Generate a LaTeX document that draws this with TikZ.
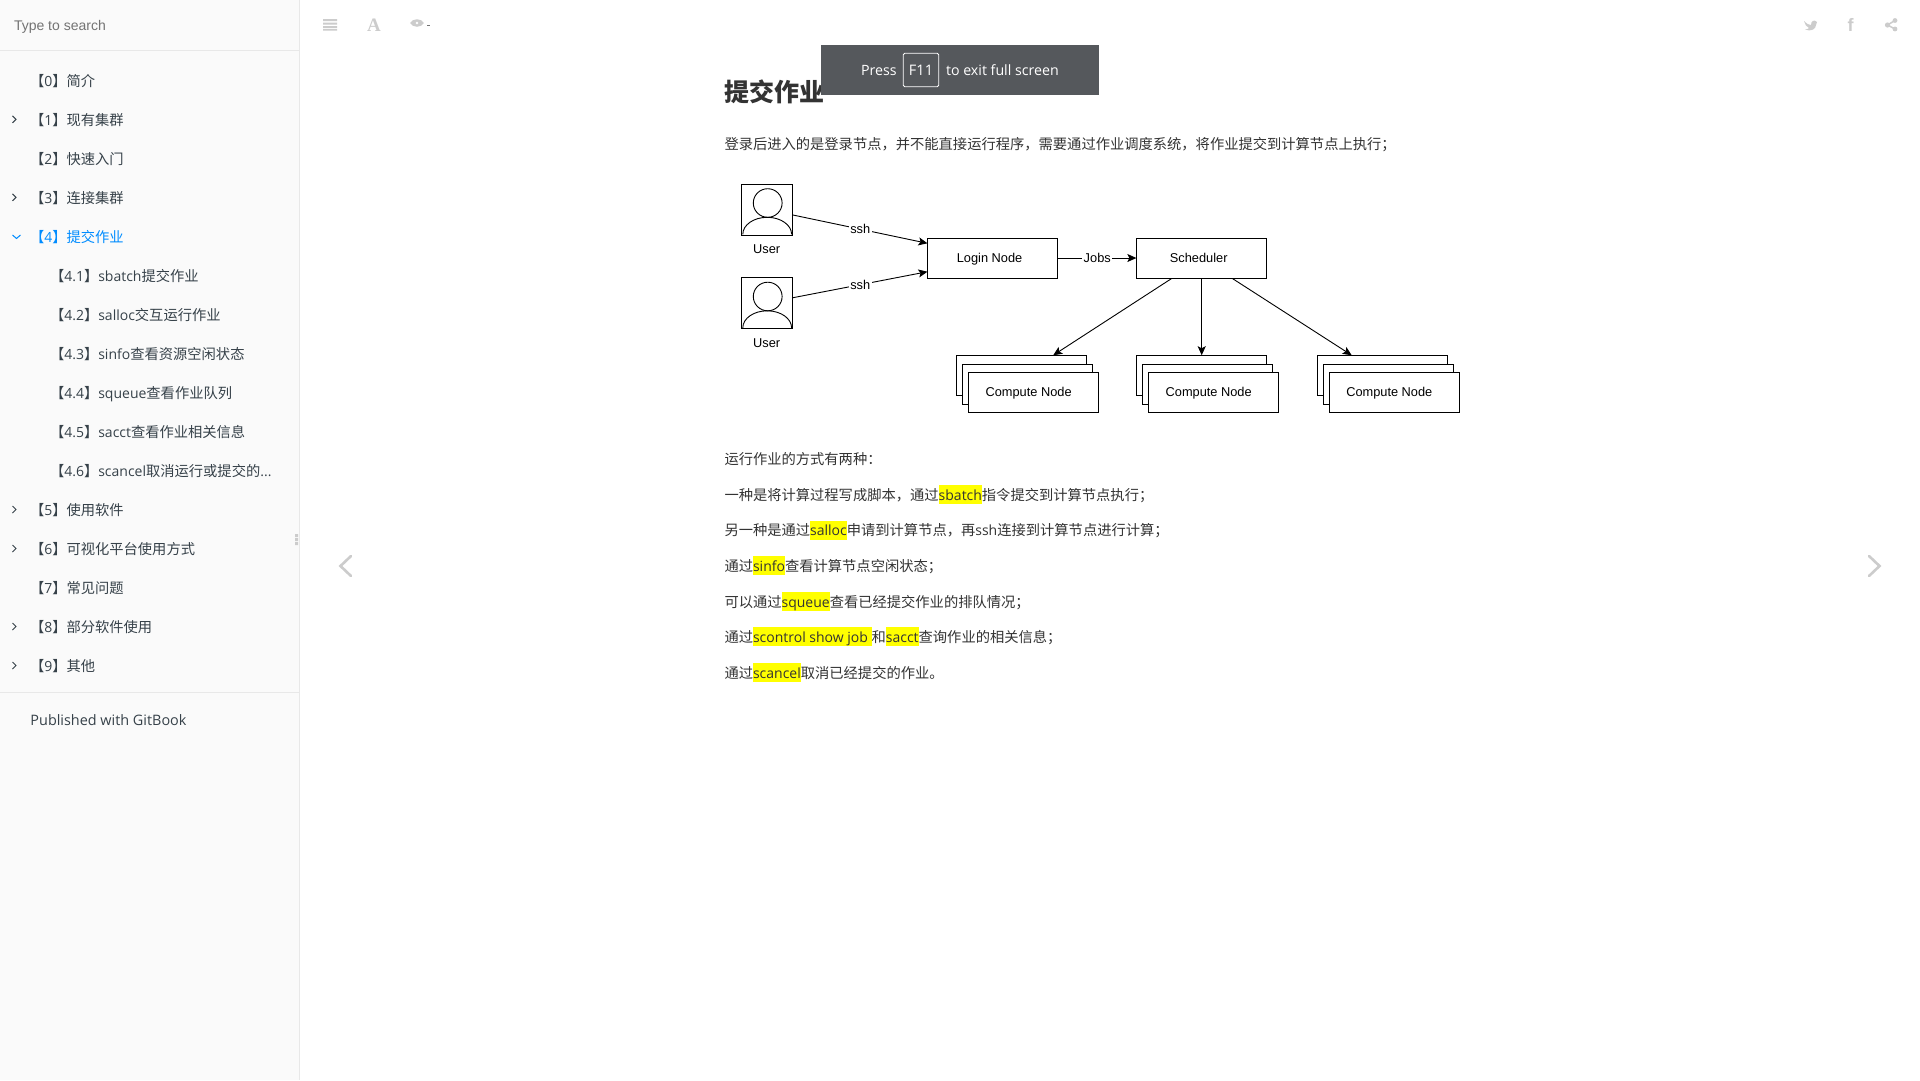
\documentclass[tikz,border=0pt]{standalone}
\usepackage{fontspec}
\setmainfont{Open Sans}
\newfontfamily\cjk{Noto Sans CJK SC}
\newfontfamily\arialf{Liberation Sans}
\newfontfamily\timesf{Liberation Serif}
\usetikzlibrary{arrows.meta}
\setlength{\fboxsep}{0pt}
\definecolor{bodytxt}{HTML}{333333}
\definecolor{sidetxt}{HTML}{364149}
\definecolor{sidebg}{HTML}{FAFAFA}
\definecolor{rulec}{HTML}{E8E8E8}
\definecolor{activec}{HTML}{008CFF}
\definecolor{iconc}{HTML}{CCCCCC}
\definecolor{overlayc}{HTML}{55585C}
\definecolor{hly}{RGB}{255,255,0}
\newcommand\Z[1]{{\cjk\fontsize{14.28}{16}\selectfont #1}}
\newcommand\hlt[1]{\colorbox{hly}{\rule[-4pt]{0pt}{19pt}#1}}
\tikzset{
  x=1pt,y=-1pt,
  txt/.style={anchor=base west,inner sep=0pt,outer sep=0pt,font=\fontsize{14}{16}\selectfont},
  bodyt/.style={txt,text=bodytxt},
  sidet/.style={txt,text=sidetxt},
  bx/.style={draw=black,fill=white,line width=0.9pt,minimum width=129.8pt,minimum height=40pt,inner sep=0pt,text height=11pt,text depth=2.4pt,font=\arialf\fontsize{12.8}{15}\selectfont},
  usr/.style={draw=black,fill=white,line width=0.9pt,minimum width=51.2pt,minimum height=51pt,inner sep=0pt},
  lbl/.style={fill=white,inner sep=1.5pt,font=\arialf\fontsize{12.8}{15}\selectfont},
  captxt/.style={inner sep=0pt,font=\arialf\fontsize{12.8}{15}\selectfont},
  arr/.style={draw=black,line width=0.9pt,-{Stealth[length=9pt,width=8pt,inset=2pt]}},
  chev/.style={draw=sidetxt,line width=1pt},
  navc/.style={draw=iconc,line width=2.6pt,line cap=round,line join=miter},
}
\begin{document}
\begin{tikzpicture}
\useasboundingbox (0,0) rectangle (1920,1080);
\fill[white] (0,0) rectangle (1920,1080);
% sidebar
\fill[sidebg] (0,0) rectangle (299,1080);
\draw[rulec,line width=1pt] (299.5,0) -- (299.5,1080);
\draw[rulec,line width=1pt] (0,50.5) -- (299,50.5);
\draw[rulec,line width=1pt] (0,692.5) -- (299,692.5);
\node[txt,text=black!55,font=\arialf\fontsize{14}{16}\selectfont] (search) at (14,30) {Type to search};
\node[sidet] (s0) at (30,86.2) {\Z{【}0\Z{】简介}};
\node[sidet] (s1) at (30,125.2) {\Z{【}1\Z{】现有集群}};
\node[sidet] (s2) at (30,164.2) {\Z{【}2\Z{】快速入门}};
\node[sidet] (s3) at (30,203.2) {\Z{【}3\Z{】连接集群}};
\node[txt,text=activec] (s4) at (30,242.2) {\Z{【}4\Z{】提交作业}};
\node[sidet] (s41) at (50,281.2) {\Z{【}4.1\Z{】}sbatch\Z{提交作业}};
\node[sidet] (s42) at (50,320.2) {\Z{【}4.2\Z{】}salloc\Z{交互运行作业}};
\node[sidet] (s43) at (50,359.2) {\Z{【}4.3\Z{】}sinfo\Z{查看资源空闲状态}};
\node[sidet] (s44) at (50,398.2) {\Z{【}4.4\Z{】}squeue\Z{查看作业队列}};
\node[sidet] (s45) at (50,437.2) {\Z{【}4.5\Z{】}sacct\Z{查看作业相关信息}};
\node[sidet] (s46) at (50,476.2) {\Z{【}4.6\Z{】}scancel\Z{取消运行或提交的}...};
\node[sidet] (s5) at (30,515.2) {\Z{【}5\Z{】使用软件}};
\node[sidet] (s6) at (30,554.2) {\Z{【}6\Z{】可视化平台使用方式}};
\node[sidet] (s7) at (30,593.2) {\Z{【}7\Z{】常见问题}};
\node[sidet] (s8) at (30,632.2) {\Z{【}8\Z{】部分软件使用}};
\node[sidet] (s9) at (30,671.2) {\Z{【}9\Z{】其他}};
\node[sidet,font=\fontsize{14.4}{16}\selectfont] (pub) at (30.5,725) {Published with GitBook};
\foreach \yy in {119.3,197.3,509.5,548.5,626.5,665.5}
  \draw[chev] (12.5,\yy-3.5) -- (16,\yy) -- (12.5,\yy+3.5);
\draw[draw=activec,line width=1pt] (12.5,235) -- (16.5,238.5) -- (20.5,235);
% resize handle
\fill[iconc] (295,534) rectangle (298,537) (295,538) rectangle (298,541) (295,542) rectangle (298,545);
% toolbar icons
\fill[iconc] (323,19) rectangle (337,21) (323,22.5) rectangle (337,24.5) (323,26) rectangle (337,28) (323,29) rectangle (337,30.5);
\node[inner sep=0pt,text=iconc,font=\timesf\bfseries\fontsize{19}{19}\selectfont,anchor=base] (fonticon) at (374,31) {A};
\fill[iconc,even odd rule] (410,23) .. controls (413,18) and (421,18) .. (424,23) .. controls (421,28) and (413,28) .. (410,23) (417,23) circle [radius=1.6];
\fill[black!55] (427,24.6) rectangle (430,25.6);
\fill[iconc] (1804,21) .. controls (1807,24) and (1809,25) .. (1811,25) .. controls (1811,21) and (1814,19) .. (1817,22) -- (1816,25) .. controls (1816,29) and (1811,32) .. (1805,29.5) .. controls (1807,29.5) and (1808,29) .. (1809,28) .. controls (1806,27) and (1805,24) .. (1804,21) -- cycle;
\node[inner sep=0pt,text=iconc,font=\arialf\bfseries\fontsize{18}{18}\selectfont,anchor=base] (fbicon) at (1850.5,31.5) {f};
\draw[iconc,line width=1.5pt] (1895,20.5) -- (1887.5,25) -- (1895,29);
\fill[iconc] (1887.5,25) circle [radius=2.6] (1895,20.5) circle [radius=2.4] (1895,29) circle [radius=2.4];
% page nav chevrons
\draw[navc] (351,556) -- (340.5,566) -- (351,576);
\draw[navc] (1869,556) -- (1879.5,566) -- (1869,576);
% heading and text
\node[txt,text=bodytxt,font=\cjk\bfseries\fontsize{25}{28}\selectfont] (title) at (724.5,101.5) {提交作业};
\node[bodyt] (p0) at (724.5,149.5) {\Z{登录后进入的是登录节点，并不能直接运行程序，需要通过作业调度系统，将作业提交到计算节点上执行；}};
\node[bodyt] (p1) at (724.5,464) {\Z{运行作业的方式有两种：}};
\node[bodyt] (p2) at (724.5,500) {\Z{一种是将计算过程写成脚本，通过}\hlt{sbatch}\Z{指令提交到计算节点执行；}};
\node[bodyt] (p3) at (724.5,535.5) {\Z{另一种是通过}\hlt{salloc}\Z{申请到计算节点，再}ssh\Z{连接到计算节点进行计算；}};
\node[bodyt] (p4) at (724.5,571) {\Z{通过}\hlt{sinfo}\Z{查看计算节点空闲状态；}};
\node[bodyt] (p5) at (724.5,607) {\Z{可以通过}\hlt{squeue}\Z{查看已经提交作业的排队情况；}};
\node[bodyt] (p6) at (724.5,642) {\Z{通过}\hlt{scontrol show job\ }\Z{和}\hlt{sacct}\Z{查询作业的相关信息；}};
\node[bodyt] (p7) at (724.5,678) {\Z{通过}\hlt{scancel}\Z{取消已经提交的作业。}};
% diagram
\node[usr] (u1) at (766.9,209.5) {};
\node[usr] (u2) at (766.9,303) {};
\draw[black,line width=0.9pt] (767.7,203) ellipse [x radius=14.4,y radius=14.3];
\draw[black,line width=0.9pt] (742.8,234.3) arc [start angle=180,end angle=360,x radius=24.4,y radius=17];
\draw[black,line width=0.9pt] (767.7,296.5) ellipse [x radius=14.4,y radius=14.3];
\draw[black,line width=0.9pt] (742.8,327.8) arc [start angle=180,end angle=360,x radius=24.4,y radius=17];
\node[captxt] (u1t) at (766.7,249) {User};
\node[captxt] (u2t) at (766.7,343) {User};
\node[bx] (login) at (992.8,258) {Login Node\kern6.5pt};
\node[bx] (sched) at (1201.7,258) {Scheduler\kern6pt};
\foreach \nm/\xx in {a/1021.6,b/1201.7,c/1382.3}{
  \node[bx] (\nm back) at (\xx,375.7) {};
  \node[bx] (\nm mid) at (\xx+6,384.8) {};
  \node[bx] (\nm front) at (\xx+12,392) {Compute Node\kern10pt};
}
\draw[arr] ([yshift=-5.5pt]u1.east) -- node[lbl,pos=0.5] (ssh1) {ssh} ([yshift=14.7pt]login.west);
\draw[arr] ([yshift=5.3pt]u2.east) -- node[lbl,pos=0.5] (ssh2) {ssh} ([yshift=-13.7pt]login.west);
\draw[arr] (login.east) -- node[lbl,pos=0.5] (jobs) {Jobs} (sched.west);
\draw[arr] ([xshift=-30pt]sched.south) -- ([xshift=31.6pt]aback.north);
\draw[arr] (sched.south) -- (sched.south |- bback.north);
\draw[arr] ([xshift=30.6pt]sched.south) -- ([xshift=-30.6pt]cback.north);
% full-screen notice
\fill[overlayc] (821,45) rectangle (1099,95);
\node[txt,text=white,font=\fontsize{14.2}{16}\selectfont] (press) at (861,75) {Press};
\node[draw=white,rounded corners=1.5pt,line width=0.8pt,minimum width=35.5pt,minimum height=33.5pt,inner sep=0pt,text=white,font=\fontsize{14.5}{16}\selectfont] (f11) at (921,70) {F11};
\node[txt,text=white,font=\fontsize{14.2}{16}\selectfont] (exit) at (946,75) {to exit full screen};
\end{tikzpicture}
\end{document}
